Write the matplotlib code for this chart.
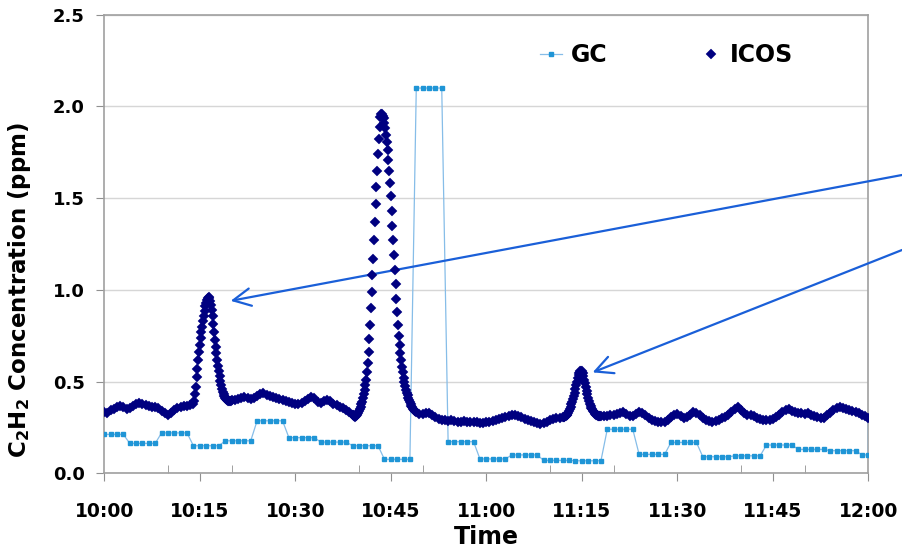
import numpy as np
import matplotlib
matplotlib.use("Agg")
import matplotlib.pyplot as plt
from matplotlib.ticker import FixedLocator

# minutes after 10:00
tick_minutes = [0, 15, 30, 45, 60, 75, 90, 105, 120]
tick_labels = ["10:00", "10:15", "10:30", "10:45", "11:00", "11:15", "11:30", "11:45", "12:00"]

# ICOS readings, baseline every 30 s, peaks every 7.5 s
icos_a_start, icos_a = 0.0, [
    0.335, 0.33, 0.345, 0.35, 0.36, 0.366, 0.36, 0.352, 0.358, 0.368,
    0.378, 0.384, 0.378, 0.37, 0.365, 0.362, 0.362, 0.355, 0.342, 0.326,
    0.32, 0.33, 0.345, 0.355, 0.362, 0.365, 0.368, 0.372]
peak1_start, peak1 = 14.0, [
    0.378, 0.395, 0.43, 0.47, 0.525, 0.57, 0.62, 0.66,
    0.70, 0.735, 0.77, 0.80, 0.83, 0.86, 0.885, 0.91,
    0.93, 0.945, 0.955, 0.96, 0.955, 0.94, 0.915, 0.89,
    0.855, 0.815, 0.77, 0.725, 0.69, 0.655, 0.62, 0.585,
    0.555, 0.53, 0.505, 0.48, 0.46, 0.445, 0.43, 0.42,
    0.41, 0.405, 0.40, 0.398, 0.395, 0.392, 0.393, 0.396,
    0.40]
icos_b_start, icos_b = 20.5, [
    0.402, 0.405, 0.412, 0.415, 0.41, 0.405, 0.41, 0.42, 0.43, 0.435,
    0.428, 0.42, 0.415, 0.41, 0.405, 0.40, 0.395, 0.388, 0.382, 0.38,
    0.378, 0.382, 0.392, 0.405, 0.415, 0.41, 0.39, 0.382, 0.395, 0.40,
    0.392, 0.38, 0.37, 0.362, 0.355, 0.345, 0.333]
peak2_start, peak2 = 39.0, [
    0.32, 0.315, 0.31, 0.308, 0.31, 0.315, 0.322, 0.33,
    0.34, 0.35, 0.36, 0.375, 0.39, 0.41, 0.43, 0.455,
    0.48, 0.51, 0.55, 0.60, 0.66, 0.73, 0.81, 0.90,
    0.99, 1.08, 1.17, 1.27, 1.37, 1.47, 1.56, 1.65,
    1.74, 1.82, 1.89, 1.94, 1.96, 1.958, 1.95, 1.935,
    1.91, 1.88, 1.845, 1.805, 1.76, 1.71, 1.65, 1.58,
    1.51, 1.43, 1.35, 1.27, 1.19, 1.11, 1.03, 0.95,
    0.88, 0.81, 0.75, 0.70, 0.655, 0.615, 0.58, 0.55,
    0.52, 0.495, 0.475, 0.455, 0.44, 0.425, 0.41, 0.398,
    0.388, 0.378, 0.368, 0.36, 0.352, 0.346, 0.341, 0.337,
    0.333]
icos_c_start, icos_c = 49.5, [
    0.325, 0.322, 0.33, 0.33, 0.315, 0.305, 0.298, 0.292, 0.29, 0.285,
    0.29, 0.285, 0.28, 0.282, 0.285, 0.28, 0.278, 0.28, 0.278, 0.275,
    0.275, 0.278, 0.28, 0.285, 0.29, 0.295, 0.30, 0.305, 0.31, 0.315,
    0.318, 0.312, 0.305, 0.298, 0.29, 0.285, 0.278, 0.272, 0.27, 0.275,
    0.282, 0.29, 0.295, 0.30, 0.302]
peak3_start, peak3 = 72.0, [
    0.305, 0.305, 0.308, 0.31, 0.312, 0.315, 0.32, 0.33,
    0.34, 0.35, 0.362, 0.375, 0.39, 0.405, 0.42, 0.44,
    0.46, 0.48, 0.50, 0.52, 0.535, 0.548, 0.556, 0.56,
    0.556, 0.545, 0.53, 0.51, 0.49, 0.47, 0.45, 0.43,
    0.41, 0.395, 0.38, 0.368, 0.358, 0.348, 0.34, 0.333,
    0.327, 0.322, 0.318, 0.315, 0.312, 0.31, 0.31, 0.31,
    0.312]
icos_d_start, icos_d = 78.5, [
    0.312, 0.31, 0.315, 0.32, 0.325, 0.33, 0.335, 0.325, 0.31, 0.31,
    0.325, 0.335, 0.33, 0.315, 0.30, 0.29, 0.285, 0.28, 0.277, 0.278,
    0.29, 0.305, 0.32, 0.325, 0.31, 0.30, 0.305, 0.32, 0.335, 0.33,
    0.315, 0.30, 0.29, 0.283, 0.28, 0.285, 0.293, 0.30, 0.307, 0.318,
    0.335, 0.352, 0.36, 0.345, 0.33, 0.32, 0.315, 0.31, 0.303, 0.298,
    0.293, 0.29, 0.29, 0.295, 0.305, 0.32, 0.335, 0.345, 0.348, 0.342,
    0.335, 0.33, 0.328, 0.325, 0.326, 0.32, 0.313, 0.305, 0.30, 0.302,
    0.315, 0.33, 0.345, 0.355, 0.362, 0.358, 0.35, 0.345, 0.34, 0.335,
    0.33, 0.32, 0.31, 0.30]

# GC: one sample per minute, a new level every 5 minutes
gc_levels = [0.212, 0.163, 0.22, 0.15, 0.177, 0.286, 0.194, 0.17, 0.15, 0.076,
             2.1, 0.172, 0.078, 0.10, 0.07, 0.068, 0.24, 0.103, 0.168, 0.09,
             0.095, 0.154, 0.13, 0.123, 0.10]
gc_run_lengths = [4] + [5] * 23 + [2]
gc_last_time, gc_last = 120.0, 0.30


def segment(start, values, step):
    return start + step * np.arange(len(values)), np.array(values)


parts = [segment(icos_a_start, icos_a, 0.5), segment(peak1_start, peak1, 0.125),
         segment(icos_b_start, icos_b, 0.5), segment(peak2_start, peak2, 0.125),
         segment(icos_c_start, icos_c, 0.5), segment(peak3_start, peak3, 0.125),
         segment(icos_d_start, icos_d, 0.5)]
icos_t = np.concatenate([p[0] for p in parts])
icos_v = np.concatenate([p[1] for p in parts])

gc_v = np.repeat(gc_levels, gc_run_lengths)
gc_t = np.arange(len(gc_v), dtype=float)
gc_t = np.append(gc_t, gc_last_time)
gc_v = np.append(gc_v, gc_last)

fig = plt.figure(figsize=(9.02, 5.5), dpi=100)
ax = fig.add_axes([0.1156, 0.1395, 0.8471, 0.8338])

ax.plot(gc_t, gc_v, color="#86bde8", lw=0.9, marker="s", ms=3.4,
        mfc="#1f95d6", mec="#1f95d6", label="GC", zorder=3)
ax.plot(icos_t, icos_v, ls="none", marker="D", ms=5.5, mfc="#000080",
        mec="#000080", mew=0.3, label="ICOS", zorder=4)

ax.set_xlim(0, 120)
ax.set_ylim(0, 2.5)
ax.set_xticks(tick_minutes)
ax.set_xticklabels(tick_labels)
ax.xaxis.set_minor_locator(FixedLocator([10, 20, 40, 50, 70, 80, 100, 110]))
ax.set_yticks([0, 0.5, 1.0, 1.5, 2.0, 2.5])
ax.set_yticklabels(["0.0", "0.5", "1.0", "1.5", "2.0", "2.5"])

ax.tick_params(axis="x", which="major", direction="out", length=6, color="#909090",
               labelsize=13.5, pad=15)
ax.tick_params(axis="x", which="minor", direction="in", length=6, color="#909090")
ax.tick_params(axis="y", direction="out", length=6, color="#909090", labelsize=13, pad=8)
for lab in ax.get_xticklabels() + ax.get_yticklabels():
    lab.set_fontweight("bold")

ax.grid(axis="y", color="#d6d6d6", lw=1.0)
ax.set_axisbelow(True)
for s in ax.spines.values():
    s.set_color("#a0a0a0")
    s.set_linewidth(1.2)

ax.set_xlabel("Time", fontsize=17, fontweight="bold")
ax.xaxis.set_label_coords(0.5, -0.113)
ax.set_ylabel(r"$\mathbf{C_2H_2}$ Concentration (ppm)", fontsize=16.5, fontweight="bold")
ax.yaxis.set_label_coords(-0.093, 0.40)

ax.legend(loc="center left", bbox_to_anchor=(540 / 902, 1 - 55 / 550),
          bbox_transform=fig.transFigure, ncol=2, frameon=False,
          prop={"weight": "bold", "size": 17}, handlelength=0.95,
          handletextpad=0.35, columnspacing=3.9, borderpad=0, borderaxespad=0,
          markerscale=0.85)

# arrows pointing at the two small peaks
arrow_blue = "#1a5fd8"
for tip, tail in [((19.85, 0.94), (1.0, 1 - 175 / 550)),
                  ((76.7, 0.55), (1.0, 1 - 250 / 550))]:
    ax.annotate("", xy=tip, xycoords="data", xytext=tail, textcoords="figure fraction",
                arrowprops=dict(arrowstyle="->,head_length=0.9,head_width=0.45",
                                color=arrow_blue, lw=1.6, mutation_scale=14,
                                shrinkA=0, shrinkB=0),
                annotation_clip=False)

fig.savefig("out.png", dpi=100)
